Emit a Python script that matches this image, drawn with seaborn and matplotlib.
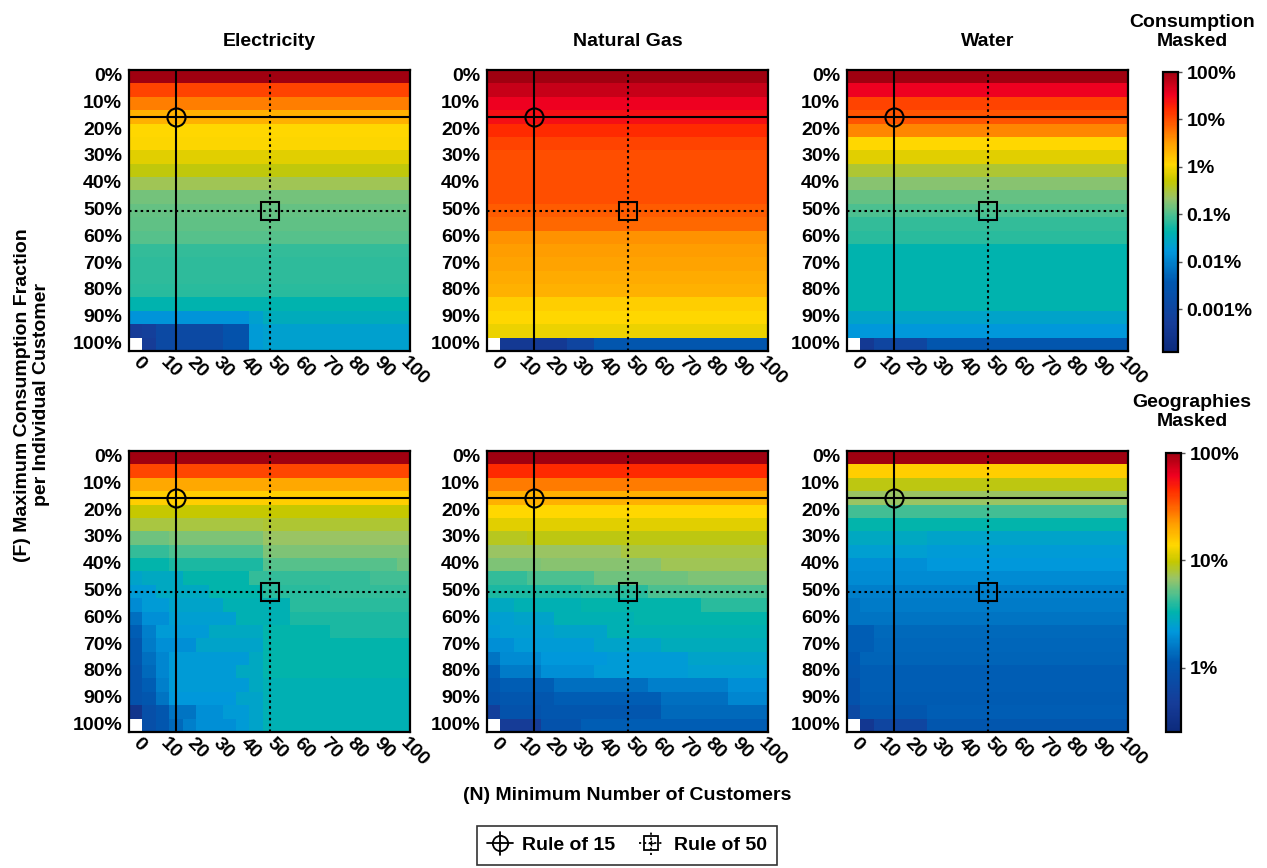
import numpy as np
import pandas as pd
import matplotlib
matplotlib.use("Agg")
import matplotlib.pyplot as plt
import seaborn as sns
from matplotlib.colors import LinearSegmentedColormap, LogNorm
from matplotlib.lines import Line2D
from matplotlib.legend_handler import HandlerBase
from matplotlib.ticker import NullLocator

sns.set_theme(style="white")
plt.rcParams['font.family'] = ['Liberation Sans', 'DejaVu Sans']
plt.rcParams['font.weight'] = 'bold'
for k in ['text.color', 'axes.labelcolor', 'xtick.color', 'ytick.color']:
    plt.rcParams[k] = 'black'

# ---------------- data ----------------
N_values = [0, 5, 10, 15, 20, 25, 30, 35, 40, 45, 50, 55, 60, 65, 70, 75, 80, 85, 90, 95, 100]
F_values = [0, 5, 10, 15, 20, 25, 30, 35, 40, 45, 50, 55, 60, 65, 70, 75, 80, 85, 90, 95, 100]
F_labels = [f"{v}%" for v in F_values]
utilities = ["Electricity", "Natural Gas", "Water"]
nan = np.nan

# Consumption masked (%), rows = F (0%..100%), cols = N (0..100)
elec_consumption = [
    [100]*21, [11.4]*21, [5.0]*21, [2.2]*21, [1.1]*21, [1.05]*21, [0.75]*21,
    [0.45]*21, [0.25]*21, [0.15]*21, [0.13]*21, [0.12]*21, [0.11]*21,
    [0.075]*21, [0.072]*21, [0.07]*21, [0.066]*21, [0.043]*21,
    [0.015]*9 + [0.022] + [0.033]*11,
    [0.00049, 0.0006] + [0.0013]*5 + [0.0025]*2 + [0.019] + [0.022]*11,
    [nan, 0.00049] + [0.0013]*5 + [0.0025]*2 + [0.019] + [0.022]*11,
]
gas_consumption = [
    [100]*21, [58]*21, [34]*21, [26]*21, [17]*21, [11.4]*21, [10]*21,
    [10]*21, [10]*21, [10]*21, [8.0]*21, [7.0]*21, [3.8]*21, [3.3]*21,
    [2.9]*21, [2.5]*21, [2.2]*21, [1.3]*21, [1.1]*21, [0.86]*21,
    [nan] + [0.00039]*5 + [0.00097]*2 + [0.0033]*13,
]
water_consumption = [
    [100]*21, [34]*21, [11.4]*21, [8.8]*21, [4.4]*21, [1.1]*21, [0.75]*21,
    [0.33]*21, [0.19]*21, [0.13]*21, [0.10]*21, [0.075]*21, [0.066]*21,
    [0.043]*21, [0.043]*21, [0.043]*21, [0.043]*21, [0.043]*21,
    [0.025]*21, [0.017]*21,
    [nan, 0.00039] + [0.00097]*4 + [0.0033]*15,
]

# Geographies masked (%)
elec_geographies = [
    [100]*21, [38]*21, [20]*21, [14.7]*21, [9.7]*21,
    [7.7]*10 + [8.1]*11,
    [5.6]*3 + [6.0]*7 + [6.8]*11,
    [4.2]*3 + [4.7]*7 + [6.0]*11,
    [3.3]*3 + [3.7]*7 + [5.0]*10 + [5.6],
    [2.6] + [2.75]*3 + [3.3]*5 + [4.2]*9 + [4.5]*3,
    [2.3]*2 + [2.75]*4 + [3.3]*4 + [4.0]*5 + [4.2]*6,
    [1.9] + [2.3]*2 + [2.6]*4 + [3.1]*5 + [4.0]*9,
    [1.43] + [2.0]*2 + [2.4]*5 + [3.1]*4 + [3.7]*9,
    [1.2, 1.7] + [2.3]*4 + [2.75]*4 + [3.3]*5 + [3.7]*6,
    [1.05, 1.6] + [2.0]*3 + [2.6]*5 + [3.3]*11,
    [1.05, 1.43, 1.8] + [2.3]*6 + [2.75] + [3.3]*11,
    [0.94, 1.35, 1.8] + [2.3]*5 + [2.75]*2 + [3.3]*11,
    [0.94, 1.2, 1.7] + [2.3]*6 + [2.75] + [3.1]*11,
    [0.94, 1.05, 1.5] + [2.2]*5 + [2.6]*2 + [3.1]*11,
    [0.36, 0.83, 1.05] + [1.5]*2 + [2.0]*2 + [2.3]*2 + [2.6] + [3.1]*11,
    [nan, 0.83, 1.05, 1.35, 1.7] + [2.0]*3 + [2.3, 2.6] + [3.1]*11,
]
gas_geographies = [
    [100]*21, [46]*21, [27]*21, [19]*21, [14]*21, [11.6]*21,
    [8.6]*3 + [9.1]*18,
    [6.8]*10 + [7.7]*11,
    [6.0]*4 + [6.3]*9 + [7.2]*8,
    [4.2]*3 + [4.7]*5 + [5.6]*7 + [6.0]*6,
    [3.7]*7 + [4.0]*5 + [4.7]*9,
    [2.75]*2 + [3.1]*5 + [3.3]*9 + [4.0]*5,
    [2.4]*2 + [2.6]*3 + [3.1]*6 + [3.3]*10,
    [2.3] + [2.4]*4 + [2.6]*4 + [3.1]*12,
    [2.0]*2 + [2.3]*6 + [2.6]*5 + [2.9]*8,
    [1.5] + [1.9]*3 + [2.2]*5 + [2.3]*6 + [2.6]*6,
    [1.2] + [1.6]*3 + [2.0]*4 + [2.3]*7 + [2.4]*6,
    [1.05] + [1.2]*4 + [1.43]*7 + [1.7]*6 + [2.0]*3,
    [0.94] + [1.05]*4 + [1.2]*8 + [1.43]*5 + [1.8]*3,
    [0.51] + [0.94]*3 + [1.05]*9 + [1.35]*8,
    [nan] + [0.46]*3 + [0.94]*3 + [1.2]*14,
]
water_geographies = [
    [100]*21, [14.7]*21, [9.1]*21, [6.8]*21, [4.5]*21, [3.3]*21,
    [2.75]*6 + [2.6]*15,
    [2.4]*6 + [2.3]*15,
    [2.0]*6 + [2.2]*15,
    [1.9]*21, [1.7]*21,
    [1.5] + [1.6]*20,
    [1.5]*21,
    [1.2]*2 + [1.35]*19,
    [1.2]*2 + [1.3]*19,
    [1.1] + [1.27]*20,
    [1.05] + [1.2]*20,
    [0.94] + [1.2]*20,
    [0.94] + [1.15]*20,
    [0.69] + [1.05]*5 + [1.2]*15,
    [nan, 0.40] + [0.62]*4 + [1.05]*15,
]

consumption_ticks = [0.001, 0.01, 0.1, 1, 10, 100]
consumption_ticklabels = ["0.001%", "0.01%", "0.1%", "1%", "10%", "100%"]
geography_ticks = [1, 10, 100]
geography_ticklabels = ["1%", "10%", "100%"]

rule15 = (15, 15)   # (N, F%)
rule50 = (50, 50)

# ---------------- style ----------------
cmap = LinearSegmentedColormap.from_list("custom_jet", [
    (0.00, "#0c2a7c"), (0.10, "#163c98"), (0.25, "#0058b0"), (0.36, "#0098dc"),
    (0.43, "#00b4ac"), (0.49, "#4cc090"), (0.55, "#98c468"), (0.61, "#c4c800"),
    (0.67, "#ffd700"), (0.75, "#ff9c00"), (0.82, "#ff5800"), (0.87, "#ff2a00"),
    (0.92, "#f00020"), (0.96, "#c80018"), (1.00, "#a00010")])
norm_cons = LogNorm(vmin=10 ** (2 - 5.9), vmax=100)
norm_geo = LogNorm(vmin=10 ** (2 - 2.6), vmax=100)

FS = 14
DOT = (0, (1.2, 1.6))
W, H = 1267, 868
fig = plt.figure(figsize=(W / 100, H / 100), dpi=100)

lefts = [129, 487, 847]
tops = [70, 451]
size_w, size_h = 281, 281

panels = [[elec_consumption, gas_consumption, water_consumption],
          [elec_geographies, gas_geographies, water_geographies]]
norms = [norm_cons, norm_geo]

def px_axes(left, top, w, h):
    return fig.add_axes([left / W, 1 - (top + h) / H, w / W, h / H])

for r in range(2):
    for c in range(3):
        ax = px_axes(lefts[c], tops[r], size_w, size_h)
        df = pd.DataFrame(np.array(panels[r][c], dtype=float), index=F_labels, columns=N_values)
        sns.heatmap(df, ax=ax, cmap=cmap, norm=norms[r], cbar=False,
                    xticklabels=2, yticklabels=2)
        ax.set_xlabel("")
        ax.set_ylabel("")
        for s in ax.spines.values():
            s.set_visible(True)
            s.set_color("black")
            s.set_linewidth(1.6)
        ax.tick_params(axis="both", length=0, colors="black")
        ax.tick_params(axis="y", pad=5)
        ax.tick_params(axis="x", pad=6)
        for t in ax.get_yticklabels():
            t.set_rotation(0)
            t.set_fontsize(FS)
            t.set_fontweight("bold")
        for t in ax.get_xticklabels():
            t.set_rotation(-45)
            t.set_ha("left")
            t.set_va("center")
            t.set_rotation_mode("anchor")
            t.set_fontsize(FS)
            t.set_fontweight("bold")
        # rule of 15
        x15 = N_values.index(rule15[0]) + 0.5
        y15 = F_values.index(rule15[1]) + 0.5
        ax.axvline(x15, color="black", lw=1.5)
        ax.axhline(y15, color="black", lw=1.5)
        ax.plot([x15], [y15], marker="o", ms=13, mfc="none", mec="black", mew=1.5)
        # rule of 50
        x50 = N_values.index(rule50[0]) + 0.5
        y50 = F_values.index(rule50[1]) + 0.5
        ax.axvline(x50, color="black", lw=1.5, ls=DOT)
        ax.axhline(y50, color="black", lw=1.5, ls=DOT)
        ax.plot([x50], [y50], marker="s", ms=13, mfc="none", mec="black", mew=1.5)
        if r == 0:
            fig.text((lefts[c] + size_w / 2) / W, 1 - 42 / H, utilities[c],
                     ha="center", va="center", fontsize=FS, fontweight="bold")
        if c == 2:
            if r == 0:
                cax = px_axes(1163, 72, 15, 280)
                ticks, labels, title, ty = consumption_ticks, consumption_ticklabels, "Consumption\nMasked", 32
            else:
                cax = px_axes(1166, 453, 15, 279)
                ticks, labels, title, ty = geography_ticks, geography_ticklabels, "Geographies\nMasked", 412
            cb = fig.colorbar(ax.collections[0], cax=cax)
            cb.set_ticks(ticks)
            cb.set_ticklabels(labels)
            cax.yaxis.set_minor_locator(NullLocator())
            cax.tick_params(length=3, width=1, color="#555555", pad=3, labelsize=FS,
                            labelcolor="black")
            for t in cax.get_yticklabels():
                t.set_fontweight("bold")
            cb.outline.set_linewidth(1.6)
            cb.outline.set_edgecolor("black")
            fig.text(1192 / W, 1 - ty / H, title, ha="center", va="center",
                     fontsize=FS, fontweight="bold", linespacing=1.1)

fig.text(32 / W, 1 - 395 / H, "(F) Maximum Consumption Fraction\nper Individual Customer",
         rotation=90, ha="center", va="center", fontsize=FS, fontweight="bold",
         linespacing=1.15)
fig.text(627 / W, 1 - 795 / H, "(N) Minimum Number of Customers",
         ha="center", va="center", fontsize=FS, fontweight="bold")


class RuleHandler(HandlerBase):
    def __init__(self, marker, ls, ms):
        super().__init__()
        self.marker, self.ls, self.ms = marker, ls, ms

    def create_artists(self, legend, orig_handle, xdescent, ydescent, width,
                       height, fontsize, trans):
        cx = width / 2 - xdescent
        cy = height / 2 - ydescent
        hline = Line2D([-xdescent, width - xdescent], [cy, cy], color="black",
                       lw=1.3, ls=self.ls)
        vline = Line2D([cx, cx], [cy - height * 0.85, cy + height * 0.85],
                       color="black", lw=1.3, ls=self.ls)
        mark = Line2D([cx], [cy], marker=self.marker, ms=self.ms, mfc="none",
                      mec="black", mew=1.3, ls="none")
        arts = [hline, vline, mark]
        if self.marker == "s":
            arts.append(Line2D([cx], [cy], marker="+", ms=5, mec="black",
                               mew=1.0, ls="none"))
        for a in arts:
            a.set_transform(trans)
        return arts


h15 = Line2D([], [], color="black")
h50 = Line2D([], [], color="black", ls=":")
leg = fig.legend([h15, h50], ["Rule of 15", "Rule of 50"],
                 handler_map={h15: RuleHandler("o", "-", 11),
                              h50: RuleHandler("s", DOT, 10)},
                 loc="upper center", bbox_to_anchor=(627 / W, 1 - 816 / H),
                 ncol=2, frameon=True, fancybox=False, handlelength=1.3,
                 columnspacing=1.2, handletextpad=0.5, borderpad=0.55,
                 prop={"weight": "bold", "size": FS})
leg.get_frame().set_edgecolor("black")
leg.get_frame().set_linewidth(1.2)

fig.savefig("out.png", dpi=100)
